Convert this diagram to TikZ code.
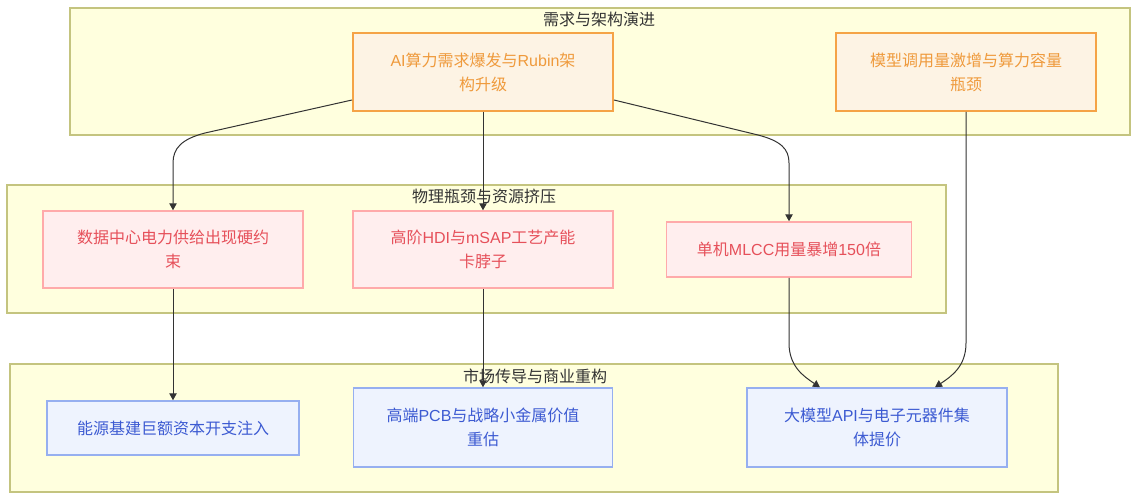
\documentclass[tikz,border=0pt]{standalone}
\usepackage{fontspec}
\setmainfont{Noto Sans CJK SC}
\newfontfamily\latf{Liberation Sans}
\newcommand\La[1]{{\latf #1}}
\usetikzlibrary{arrows.meta,calc}
\definecolor{clfill}{HTML}{FFFFDE}
\definecolor{cldraw}{HTML}{C4C47F}
\definecolor{orfill}{HTML}{FDF3E4}
\definecolor{ordraw}{HTML}{F5A346}
\definecolor{ortext}{HTML}{EF9A3C}
\definecolor{rdfill}{HTML}{FFEEEE}
\definecolor{rddraw}{HTML}{FFAAAA}
\definecolor{rdtext}{HTML}{E6505A}
\definecolor{blfill}{HTML}{EEF3FE}
\definecolor{bldraw}{HTML}{96AFF0}
\definecolor{bltext}{HTML}{3C5AD2}
\definecolor{edgec}{HTML}{333333}
\definecolor{titc}{HTML}{333333}
\tikzset{
  cluster/.style={fill=clfill, draw=cldraw, line width=1.2pt},
  cltitle/.style={text=titc, font=\fontsize{16}{24}\selectfont, inner sep=0pt},
  box/.style={align=center, inner sep=0pt, font=\fontsize{16}{24}\selectfont},
  orbox/.style={box, fill=orfill, draw=ordraw, text=ortext, line width=2pt},
  rdbox/.style={box, fill=rdfill, draw=rddraw, text=rdtext, line width=1.5pt},
  blbox/.style={box, fill=blfill, draw=bldraw, text=bltext, line width=1.5pt},
  edge/.style={draw=edgec, line width=1pt, -{Triangle[length=7pt,width=7.5pt]}}
}
\begin{document}
\begin{tikzpicture}[x=1pt,y=-1pt]
\useasboundingbox (0,0) rectangle (1139,500);
% clusters
\path[cluster] (70,8) rectangle (1130,135);
\path[cluster] (7,185) rectangle (946,313);
\path[cluster] (10,364) rectangle (1058,492);
\node[cltitle] (t1) at (599,19) {需求与架构演进};
\node[cltitle] (t2) at (484,196) {物理瓶颈与资源挤压};
\node[cltitle] (t3) at (535,376) {市场传导与商业重构};
% nodes
\node[orbox, minimum width=260pt, minimum height=78pt] (A) at (483,72) {\La{AI}算力需求爆发与\La{Rubin}架\\构升级};
\node[orbox, minimum width=260pt, minimum height=78pt] (B) at (966,72) {模型调用量激增与算力容量\\瓶颈};
\node[rdbox, minimum width=260pt, minimum height=77pt] (C) at (173,249.5) {数据中心电力供给出现硬约\\束};
\node[rdbox, minimum width=260pt, minimum height=77pt] (D) at (483,249.5) {高阶\La{HDI}与\La{mSAP}工艺产能\\卡脖子};
\node[rdbox, minimum width=245pt, minimum height=55pt] (E) at (789,249.5) {单机\La{MLCC}用量暴增\La{150}倍};
\node[blbox, minimum width=252pt, minimum height=54pt] (F) at (173,428) {能源基建巨额资本开支注入};
\node[blbox, minimum width=259pt, minimum height=79pt] (G) at (483,427.5) {高端\La{PCB}与战略小金属价值\\重估};
\node[blbox, minimum width=260pt, minimum height=79pt] (H) at (877,427.5) {大模型\La{API}与电子元器件集\\体提价};
% edges
\draw[edge] ([yshift=12pt]A.south west) -- (205,133) .. controls (182,139) and (173,148) .. (173,163) -- (C.north);
\draw[edge] (A.south) -- (D.north);
\draw[edge] ([yshift=12pt]A.south east) -- (758,135) .. controls (781,141) and (789,149) .. (789,163) -- (E.north);
\draw[edge] (C.south) -- (F.north);
\draw[edge] (D.south) -- (G.north);
\draw[edge] (E.south) -- (789,343) .. controls (789,366) and (803,376) .. ([xshift=-57pt]H.north);
\draw[edge] (B.south) -- (966,343) .. controls (966,366) and (952,376) .. ([xshift=58pt]H.north);
\end{tikzpicture}
\end{document}
